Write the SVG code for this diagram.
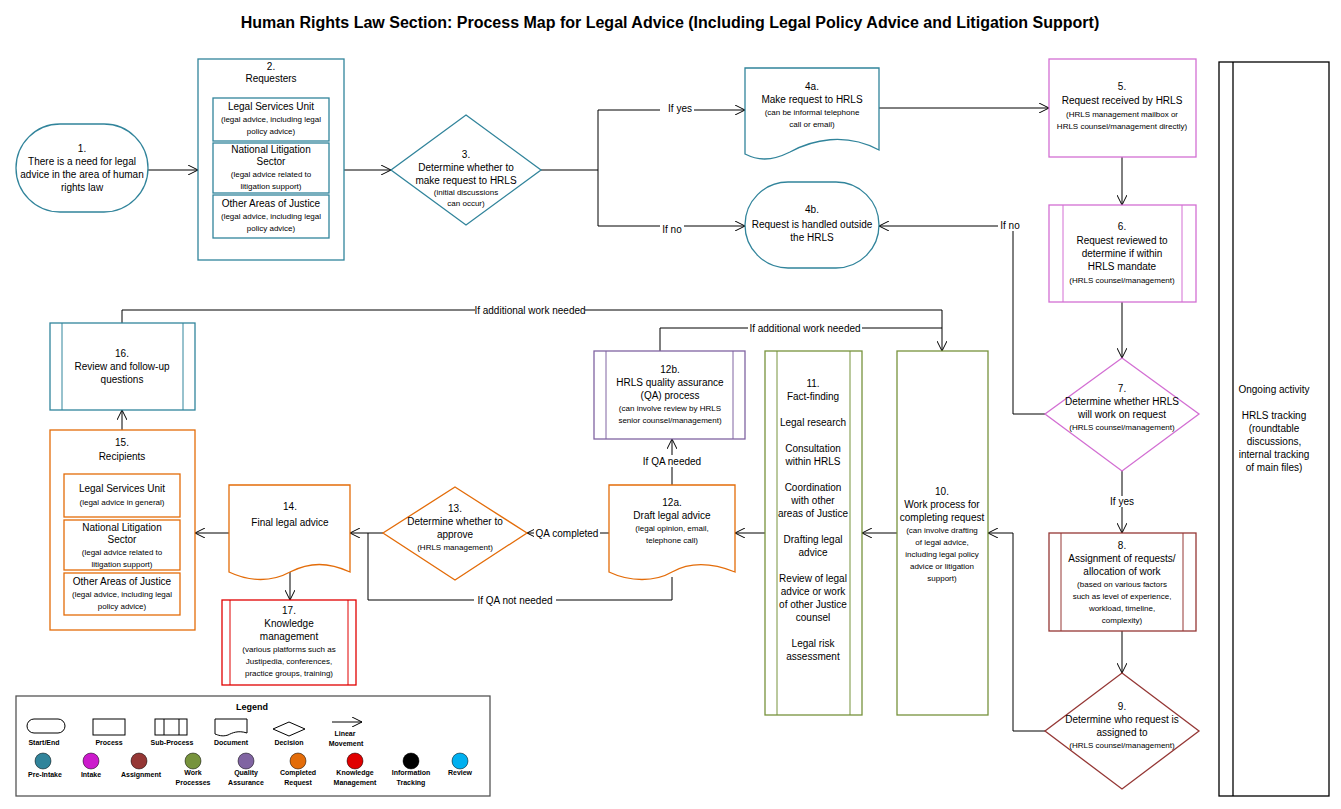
<svg xmlns="http://www.w3.org/2000/svg" width="1341" height="809" viewBox="0 0 1341 809">
<defs>
<marker id="a" viewBox="0 0 10 10" refX="10" refY="5" markerWidth="10" markerHeight="10" markerUnits="userSpaceOnUse" orient="auto"><path d="M0,0 L10,5 L0,10" fill="none" stroke="#000" stroke-width="1"/></marker>
<style>
text{font-family:"Liberation Sans",Arial,sans-serif;font-size:10px;fill:#000;text-anchor:middle}
.s{font-size:8px}
.t{font-size:16px;font-weight:bold}
.lg{font-size:7px;font-weight:bold}
.n{fill:#fff;stroke-width:1.3}
.c line,.c path,.c polyline{stroke:#000;fill:none;stroke-width:1}
.lb{fill:#fff}
.teal{stroke:#31849b}.mag{stroke:#d36fd3}.brn{stroke:#953735}.grn{stroke:#77933c}.pur{stroke:#8064a2}.org{stroke:#e36c09}.red{stroke:#e00000}.blu{stroke:#31859c}.blk{stroke:#000}
</style>
</defs>
<rect width="1341" height="809" fill="#fff"/>
<text x="670" y="28" class="t">Human Rights Law Section: Process Map for Legal Advice (Including Legal Policy Advice and Litigation Support)</text>

<g class="c">
<line x1="148" y1="170" x2="198" y2="170" marker-end="url(#a)"/>
<line x1="344" y1="170" x2="391" y2="170" marker-end="url(#a)"/>
<polyline points="541,170 598,170"/>
<line x1="598" y1="110" x2="598" y2="226"/>
<line x1="598" y1="110" x2="745" y2="110" marker-end="url(#a)"/>
<line x1="598" y1="226" x2="745" y2="226" marker-end="url(#a)"/>
<line x1="879" y1="108" x2="1049" y2="108" marker-end="url(#a)"/>
<line x1="1122" y1="157" x2="1122" y2="205" marker-end="url(#a)"/>
<line x1="1122" y1="302" x2="1122" y2="358" marker-end="url(#a)"/>
<polyline points="1045,414 1013,414 1013,226 879,226" marker-end="url(#a)"/>
<line x1="1122" y1="471" x2="1122" y2="533" marker-end="url(#a)"/>
<line x1="1122" y1="631" x2="1122" y2="673" marker-end="url(#a)"/>
<polyline points="1045,731 1013,731 1013,533 988,533" marker-end="url(#a)"/>
<line x1="897" y1="533" x2="862" y2="533" marker-end="url(#a)"/>
<line x1="765" y1="533" x2="735" y2="533" marker-end="url(#a)"/>
<line x1="672" y1="485" x2="672" y2="439" marker-end="url(#a)"/>
<line x1="609" y1="533" x2="527" y2="533" marker-end="url(#a)"/>
<polyline points="672,577 672,600 368,600 368,533"/>
<line x1="383" y1="533" x2="350" y2="533" marker-end="url(#a)"/>
<line x1="229" y1="533" x2="195" y2="533" marker-end="url(#a)"/>
<line x1="290" y1="570" x2="290" y2="600" marker-end="url(#a)"/>
<line x1="122" y1="430" x2="122" y2="410" marker-end="url(#a)"/>
<polyline points="122,323 122,310 942,310 942,351" marker-end="url(#a)" stroke="#666"/>
<polyline points="660,351 660,328 942,328"/>
<rect x="660" y="104" width="34" height="11" class="lb"/><text x="680" y="112">If yes</text>
<rect x="660" y="222" width="24" height="11" class="lb"/><text x="672" y="233">If no</text>
<rect x="998" y="220" width="24" height="11" class="lb"/><text x="1010" y="229">If no</text>
<rect x="1105" y="496" width="34" height="11" class="lb"/><text x="1122" y="505">If yes</text>
<rect x="640" y="455" width="64" height="12" class="lb"/><text x="672" y="465">If QA needed</text>
<rect x="534" y="527" width="66" height="12" class="lb"/><text x="567" y="537">QA completed</text>
<rect x="474" y="594" width="82" height="12" class="lb"/><text x="515" y="604">If QA not needed</text>
<rect x="475" y="304" width="110" height="12" class="lb"/><text x="530" y="314">If additional work needed</text>
<rect x="748" y="322" width="114" height="12" class="lb"/><text x="805" y="332">If additional work needed</text>
</g>

<g id="n1"><rect x="16" y="124" width="132" height="88" rx="44" class="n teal"/>
<text x="82" y="152">1.</text><text x="82" y="165">There is a need for legal</text><text x="82" y="178">advice in the area of human</text><text x="82" y="191">rights law</text></g>

<g id="n2"><rect x="198" y="59" width="146" height="201" class="n teal"/>
<text x="271" y="70">2.</text><text x="271" y="82">Requesters</text>
<rect x="213" y="98" width="116" height="43" class="n teal"/>
<text x="271" y="110">Legal Services Unit</text><text x="271" y="122" class="s">(legal advice, including legal</text><text x="271" y="134" class="s">policy advice)</text>
<rect x="213" y="143" width="116" height="50" class="n teal"/>
<text x="271" y="153">National Litigation</text><text x="271" y="165">Sector</text><text x="271" y="177" class="s">(legal advice related to</text><text x="271" y="189" class="s">litigation support)</text>
<rect x="213" y="195" width="116" height="43" class="n teal"/>
<text x="271" y="207">Other Areas of Justice</text><text x="271" y="219" class="s">(legal advice, including legal</text><text x="271" y="231" class="s">policy advice)</text></g>

<g id="n3"><path d="M466,115 L541,170 L466,225 L391,170 Z" class="n teal"/>
<text x="466" y="158">3.</text><text x="466" y="171">Determine whether to</text><text x="466" y="184">make request to HRLS</text><text x="466" y="195" class="s">(initial discussions</text><text x="466" y="206" class="s">can occur)</text></g>

<g id="n4a"><path d="M745,68 H879 V150 C845,132 812,140 790,152 C770,162 757,160 745,154 Z" class="n teal"/>
<text x="812" y="90">4a.</text><text x="812" y="103">Make request to HRLS</text><text x="812" y="115" class="s">(can be informal telephone</text><text x="812" y="127" class="s">call or email)</text></g>

<g id="n4b"><rect x="745" y="182" width="134" height="86" rx="43" class="n teal"/>
<text x="812" y="213">4b.</text><text x="812" y="228">Request is handled outside</text><text x="812" y="241">the HRLS</text></g>

<g id="n5"><rect x="1049" y="59" width="147" height="98" class="n mag"/>
<text x="1122" y="90">5.</text><text x="1122" y="104">Request received by HRLS</text><text x="1122" y="117" class="s">(HRLS management mailbox or</text><text x="1122" y="129" class="s">HRLS counsel/management directly)</text></g>

<g id="n6"><rect x="1049" y="205" width="147" height="97" class="n mag"/><line x1="1063" y1="205" x2="1063" y2="302" class="mag"/><line x1="1182" y1="205" x2="1182" y2="302" class="mag"/>
<text x="1122" y="230">6.</text><text x="1122" y="244">Request reviewed to</text><text x="1122" y="257">determine if within</text><text x="1122" y="270">HRLS mandate</text><text x="1122" y="283" class="s">(HRLS counsel/management)</text></g>

<g id="n7"><path d="M1122,358 L1199,414 L1122,471 L1045,414 Z" class="n mag"/>
<text x="1122" y="392">7.</text><text x="1122" y="405">Determine whether HRLS</text><text x="1122" y="418">will work on request</text><text x="1122" y="430" class="s">(HRLS counsel/management)</text></g>

<g id="n8"><rect x="1049" y="533" width="147" height="98" class="n brn"/><line x1="1061" y1="533" x2="1061" y2="631" class="brn"/><line x1="1183" y1="533" x2="1183" y2="631" class="brn"/>
<text x="1122" y="549">8.</text><text x="1122" y="562">Assignment of requests/</text><text x="1122" y="575">allocation of work</text><text x="1122" y="587" class="s">(based on various factors</text><text x="1122" y="599" class="s">such as level of experience,</text><text x="1122" y="611" class="s">workload, timeline,</text><text x="1122" y="623" class="s">complexity)</text></g>

<g id="n9"><path d="M1122,673 L1199,731 L1122,789 L1045,731 Z" class="n brn"/>
<text x="1122" y="710">9.</text><text x="1122" y="723">Determine who request is</text><text x="1122" y="736">assigned to</text><text x="1122" y="748" class="s">(HRLS counsel/management)</text></g>

<g id="ongoing"><rect x="1219" y="62" width="110" height="734" class="n blk"/><line x1="1233" y1="62" x2="1233" y2="796" class="blk" stroke-width="1.3"/>
<text x="1274" y="393">Ongoing activity</text><text x="1274" y="419">HRLS tracking</text><text x="1274" y="432">(roundtable</text><text x="1274" y="445">discussions,</text><text x="1274" y="458">internal tracking</text><text x="1274" y="471">of main files)</text></g>

<g id="n10"><rect x="897" y="351" width="91" height="364" class="n grn"/>
<text x="942" y="495">10.</text><text x="942" y="508">Work process for</text><text x="942" y="521">completing request</text><text x="942" y="533" class="s">(can involve drafting</text><text x="942" y="545" class="s">of legal advice,</text><text x="942" y="557" class="s">including legal policy</text><text x="942" y="569" class="s">advice or litigation</text><text x="942" y="581" class="s">support)</text></g>

<g id="n11"><rect x="765" y="351" width="97" height="364" class="n grn"/><line x1="777" y1="351" x2="777" y2="715" class="grn"/><line x1="850" y1="351" x2="850" y2="715" class="grn"/>
<text x="813" y="387">11.</text><text x="813" y="400">Fact-finding</text><text x="813" y="426">Legal research</text><text x="813" y="452">Consultation</text><text x="813" y="465">within HRLS</text><text x="813" y="491">Coordination</text><text x="813" y="504">with other</text><text x="813" y="517">areas of Justice</text><text x="813" y="543">Drafting legal</text><text x="813" y="556">advice</text><text x="813" y="582">Review of legal</text><text x="813" y="595">advice or work</text><text x="813" y="608">of other Justice</text><text x="813" y="621">counsel</text><text x="813" y="647">Legal risk</text><text x="813" y="660">assessment</text></g>

<g id="n12b"><rect x="594" y="351" width="151" height="88" class="n pur"/><line x1="606" y1="351" x2="606" y2="439" class="pur"/><line x1="733" y1="351" x2="733" y2="439" class="pur"/>
<text x="670" y="373">12b.</text><text x="670" y="386">HRLS quality assurance</text><text x="670" y="399">(QA) process</text><text x="670" y="411" class="s">(can involve review by HRLS</text><text x="670" y="423" class="s">senior counsel/management)</text></g>

<g id="n12a"><path d="M609,485 H735 V572 C710,562 690,562 672,572 C655,582 630,582 609,572 Z" class="n org"/>
<text x="672" y="506">12a.</text><text x="672" y="519">Draft legal advice</text><text x="672" y="531" class="s">(legal opinion, email,</text><text x="672" y="543" class="s">telephone call)</text></g>

<g id="n13"><path d="M455,487 L527,533 L455,580 L383,533 Z" class="n org"/>
<text x="455" y="512">13.</text><text x="455" y="525">Determine whether to</text><text x="455" y="538">approve</text><text x="455" y="550" class="s">(HRLS management)</text></g>

<g id="n14"><path d="M229,485 H350 V572 C328,562 310,562 290,572 C272,582 250,582 229,572 Z" class="n org"/>
<text x="290" y="510">14.</text><text x="290" y="526">Final legal advice</text></g>

<g id="n17"><rect x="222" y="600" width="134" height="85" class="n red"/><line x1="230" y1="600" x2="230" y2="685" class="red"/><line x1="348" y1="600" x2="348" y2="685" class="red"/>
<text x="289" y="614">17.</text><text x="289" y="627">Knowledge</text><text x="289" y="640">management</text><text x="289" y="652" class="s">(various platforms such as</text><text x="289" y="664" class="s">Justipedia, conferences,</text><text x="289" y="676" class="s">practice groups, training)</text></g>

<g id="n15"><rect x="50" y="430" width="145" height="200" class="n org"/>
<text x="122" y="446">15.</text><text x="122" y="460">Recipients</text>
<rect x="64" y="474" width="116" height="43" class="n org"/>
<text x="122" y="492">Legal Services Unit</text><text x="122" y="505" class="s">(legal advice in general)</text>
<rect x="64" y="520" width="116" height="50" class="n org"/>
<text x="122" y="531">National Litigation</text><text x="122" y="543">Sector</text><text x="122" y="555" class="s">(legal advice related to</text><text x="122" y="567" class="s">litigation support)</text>
<rect x="64" y="573" width="116" height="42" class="n org"/>
<text x="122" y="585">Other Areas of Justice</text><text x="122" y="597" class="s">(legal advice, including legal</text><text x="122" y="609" class="s">policy advice)</text></g>

<g id="n16"><rect x="50" y="323" width="145" height="87" class="n blu"/><line x1="62" y1="323" x2="62" y2="410" class="blu"/><line x1="183" y1="323" x2="183" y2="410" class="blu"/>
<text x="122" y="357">16.</text><text x="122" y="370">Review and follow-up</text><text x="122" y="383">questions</text></g>

<g id="legend">
<rect x="16" y="696" width="474" height="100" fill="#fff" stroke="#555" stroke-width="1.3"/>
<text x="252" y="710" class="lg" style="font-size:9px">Legend</text>
<rect x="27" y="719" width="38" height="14" rx="7" fill="#fff" stroke="#000"/>
<rect x="93" y="719" width="32" height="16" fill="#fff" stroke="#000"/>
<rect x="155" y="719" width="32" height="16" fill="#fff" stroke="#000"/><line x1="164" y1="719" x2="164" y2="735" stroke="#000"/><line x1="179" y1="719" x2="179" y2="735" stroke="#000"/>
<path d="M215,719 H247 V733 C238,730 232,733 228,735 C222,737 218,735 215,734 Z" fill="#fff" stroke="#000"/>
<path d="M289,722 L305,729 L289,736 L273,729 Z" fill="#fff" stroke="#000"/>
<line x1="332" y1="722" x2="362" y2="722" stroke="#000" marker-end="url(#a)"/>
<text x="44" y="745" class="lg">Start/End</text><text x="109" y="745" class="lg">Process</text><text x="172" y="745" class="lg">Sub-Process</text><text x="231" y="745" class="lg">Document</text><text x="289" y="745" class="lg">Decision</text><text x="345" y="736" class="lg">Linear</text><text x="346" y="746" class="lg">Movement</text>
<circle cx="43" cy="761" r="8" fill="#31849b" stroke="#000" stroke-width="0.5"/>
<circle cx="91" cy="761" r="8" fill="#cc1acc" stroke="#000" stroke-width="0.5"/>
<circle cx="139" cy="761" r="8" fill="#953735" stroke="#000" stroke-width="0.5"/>
<circle cx="193" cy="761" r="8" fill="#77933c" stroke="#000" stroke-width="0.5"/>
<circle cx="246" cy="761" r="8" fill="#8064a2" stroke="#000" stroke-width="0.5"/>
<circle cx="298" cy="761" r="8" fill="#e36c09" stroke="#000" stroke-width="0.5"/>
<circle cx="355" cy="761" r="8" fill="#e00000" stroke="#000" stroke-width="0.5"/>
<circle cx="411" cy="761" r="8" fill="#000" stroke="#000" stroke-width="0.5"/>
<circle cx="460" cy="761" r="8" fill="#00b0f0" stroke="#000" stroke-width="0.5"/>
<text x="45" y="777" class="lg">Pre-Intake</text><text x="91" y="777" class="lg">Intake</text><text x="141" y="777" class="lg">Assignment</text>
<text x="193" y="775" class="lg">Work</text><text x="193" y="785" class="lg">Processes</text>
<text x="246" y="775" class="lg">Quality</text><text x="246" y="785" class="lg">Assurance</text>
<text x="298" y="775" class="lg">Completed</text><text x="298" y="785" class="lg">Request</text>
<text x="355" y="775" class="lg">Knowledge</text><text x="355" y="785" class="lg">Management</text>
<text x="411" y="775" class="lg">Information</text><text x="411" y="785" class="lg">Tracking</text>
<text x="460" y="775" class="lg">Review</text>
</g>
</svg>
